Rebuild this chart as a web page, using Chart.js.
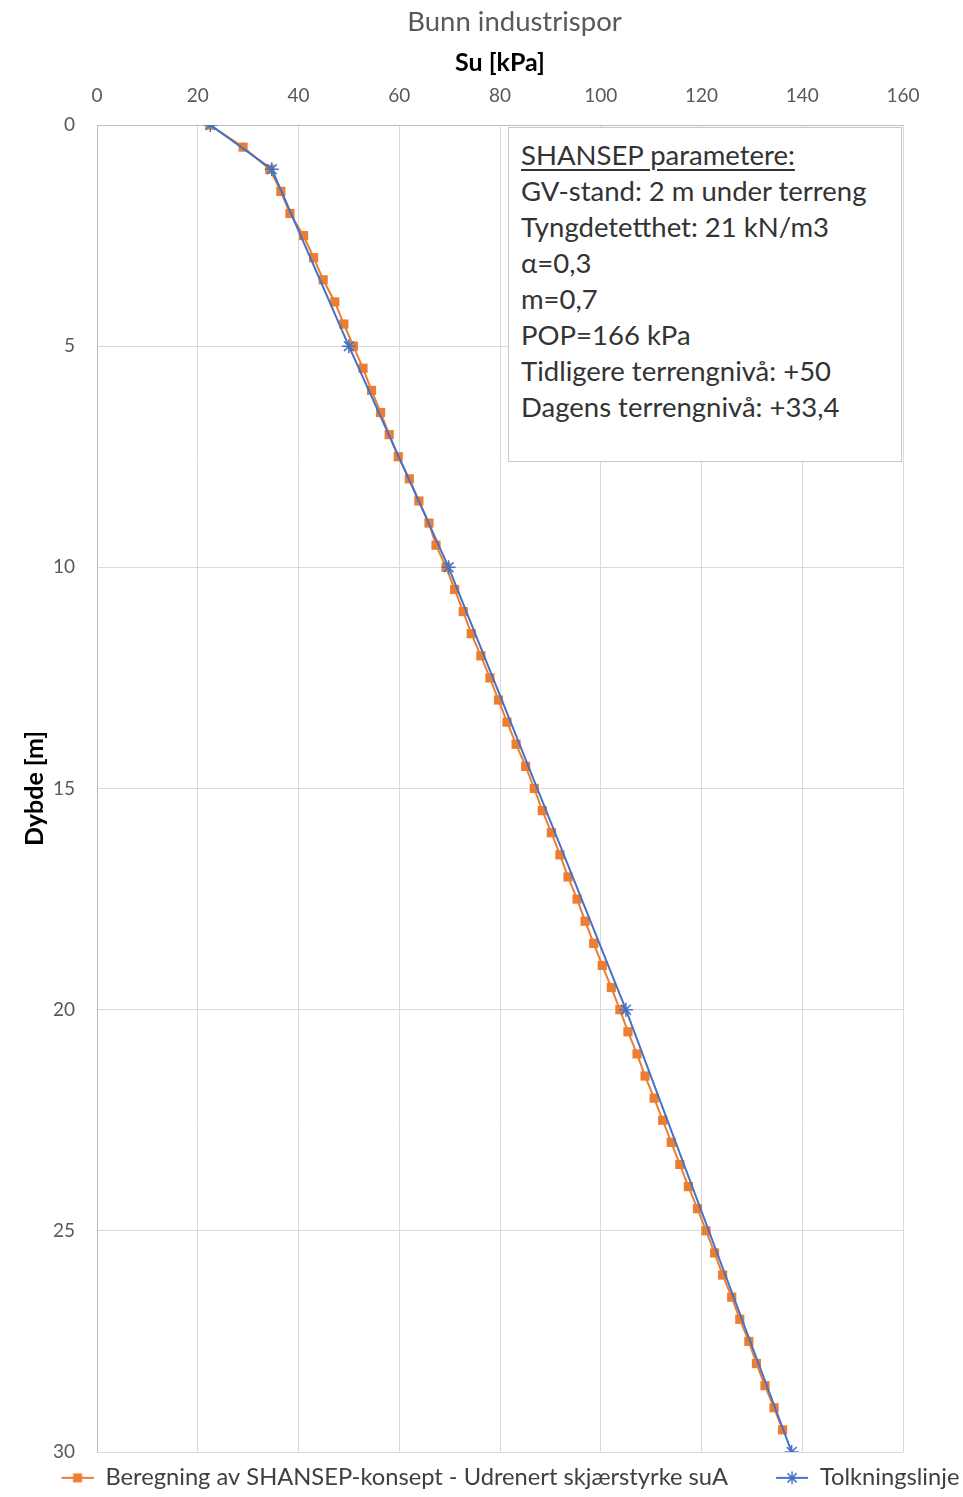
<!DOCTYPE html>
<html><head><meta charset="utf-8">
<script src="https://cdn.jsdelivr.net/npm/chart.js@4/dist/chart.umd.min.js"></script>
<style>
html,body{margin:0;padding:0;background:#fff;}
#wrap{position:relative;width:963px;height:1497px;}
#c{position:absolute;left:0;top:0;}
#note{position:absolute;left:508px;top:127px;width:394px;height:335px;border:1px solid #c8c8c8;background:#fff;font-family:Lato,"Open Sans",sans-serif;font-size:27.5px;line-height:36px;color:#333;box-sizing:border-box;padding:9px 0 0 12px;white-space:nowrap;}
#note .u{text-decoration:underline;text-underline-offset:4px;text-decoration-thickness:1.5px;}
</style></head>
<body><div id="wrap"><canvas id="c" width="963" height="1497"></canvas>
<div id="note">
<div class="u">SHANSEP parametere:</div>
<div>GV-stand: 2 m under terreng</div>
<div>Tyngdetetthet: 21 kN/m3</div>
<div>α=0,3</div>
<div>m=0,7</div>
<div>POP=166 kPa</div>
<div>Tidligere terrengnivå: +50</div>
<div>Dagens terrengnivå: +33,4</div>
</div></div>
<script>
// ---- data ----
const chartTitle = "Bunn industrispor";
const xTitle = "Su [kPa]";
const yTitle = "Dybde [m]";
const seriesNames = ["Beregning av SHANSEP-konsept - Udrenert skjærstyrke suA", "Tolkningslinje"];

const depthCalc = [0,0.5,1,1.5,2,2.5,3,3.5,4,4.5,5,5.5,6,6.5,7,7.5,8,8.5,9,9.5,10,10.5,11,11.5,12,12.5,13,13.5,14,14.5,15,15.5,16,16.5,17,17.5,18,18.5,19,19.5,20,20.5,21,21.5,22,22.5,23,23.5,24,24.5,25,25.5,26,26.5,27,27.5,28,28.5,29,29.5];
const suCalc = [22.4,29.0,34.3,36.5,38.3,41.0,43.0,44.9,47.2,49.0,50.9,52.8,54.5,56.3,58.0,59.8,62.0,63.9,65.9,67.3,69.3,71.0,72.7,74.3,76.2,78.0,79.7,81.4,83.2,85.1,86.8,88.4,90.2,91.9,93.5,95.3,96.9,98.6,100.3,102.1,103.8,105.4,107.2,108.8,110.6,112.3,114.0,115.7,117.4,119.2,120.9,122.6,124.2,126.0,127.6,129.4,130.9,132.6,134.4,136.1];

const depthLine = [0,1,5,10,20,30];
const suLine = [22.5,34.7,50.0,69.8,105.0,137.9];

const xTicks = [0,20,40,60,80,100,120,140,160];
const yTicks = [0,5,10,15,20,25,30];

// ---- styles ----
const ORANGE = '#ED7D31', BLUE = '#4472C4';
const FONT = 'Lato, "Open Sans", sans-serif';

function pts(xs, ys){ return xs.map((x,i)=>({x:x, y:ys[i]})); }

function makeIcon(kind){
  const cv = document.createElement('canvas');
  cv.width = 70; cv.height = 16;
  const g = cv.getContext('2d');
  const x0 = 38, x1 = 70, cy = 8, cx = (x0+x1)/2;
  g.lineWidth = 2;
  g.strokeStyle = kind === 'rect' ? ORANGE : BLUE;
  g.beginPath(); g.moveTo(x0, cy); g.lineTo(x1, cy); g.stroke();
  if (kind === 'rect') {
    g.fillStyle = ORANGE; g.fillRect(cx-4.5, cy-4.5, 9, 9);
  } else {
    g.lineWidth = 1.5;
    const r = 6.5;
    g.beginPath();
    g.moveTo(cx-r, cy); g.lineTo(cx+r, cy);
    g.moveTo(cx, cy-r); g.lineTo(cx, cy+r);
    const d = r*Math.SQRT1_2;
    g.moveTo(cx-d, cy-d); g.lineTo(cx+d, cy+d);
    g.moveTo(cx-d, cy+d); g.lineTo(cx+d, cy-d);
    g.stroke();
  }
  return cv;
}
const icons = [makeIcon('rect'), makeIcon('star')];

const shiftBlocks = {
  id: 'shiftBlocks',
  afterLayout(chart){
    const tb = chart.titleBlock;
    if (tb) { tb.left += 33; tb.right += 33; }
    const lg = chart.legend;
    if (lg) { lg.left += 10; lg.right += 10; lg.top += 4; lg.bottom += 4; }
  }
};

new Chart(document.getElementById('c'), {
  type: 'scatter',
  data: {
    datasets: [
      {
        label: seriesNames[0],
        data: pts(suCalc, depthCalc),
        showLine: true,
        borderColor: ORANGE,
        backgroundColor: ORANGE,
        borderWidth: 2,
        pointStyle: 'rect',
        pointRadius: 6.5,
        pointBorderWidth: 0,
        order: 2
      },
      {
        label: seriesNames[1],
        data: pts(suLine, depthLine),
        showLine: true,
        borderColor: BLUE,
        backgroundColor: BLUE,
        borderWidth: 2,
        pointStyle: 'star',
        pointRadius: 7,
        pointBorderWidth: 1.5,
        order: 1
      }
    ]
  },
  options: {
    responsive: false,
    animation: false,
    devicePixelRatio: 1,
    layout: { padding: { left: 0, right: 0, top: 0, bottom: 1.3 } },
    plugins: {
      tooltip: { enabled: false },
      title: {
        display: true,
        text: chartTitle,
        color: '#595959',
        font: { family: FONT, size: 27.5, weight: 'normal', lineHeight: 1.2 },
        padding: { top: 5.5, bottom: 0 }
      },
      legend: {
        position: 'bottom',
        labels: {
          usePointStyle: true,
          pointStyleWidth: 70,
          boxHeight: 14,
          padding: 10,
          color: '#404040',
          font: { family: FONT, size: 23.7 },
          sort: (a, b) => a.datasetIndex - b.datasetIndex,
          generateLabels(chart){
            const items = Chart.defaults.plugins.legend.labels.generateLabels(chart);
            items.forEach(it => { it.pointStyle = icons[it.datasetIndex]; });
            return items;
          }
        }
      }
    },
    scales: {
      x: {
        type: 'linear',
        position: 'top',
        min: xTicks[0], max: xTicks[xTicks.length-1],
        afterBuildTicks(scale){ scale.ticks = xTicks.map(v=>({value:v})); },
        afterFit(scale){ scale.height = 125 - 38.5; },
        grid: { color: '#d9d9d9', drawTicks: false, lineWidth: 1 },
        border: { color: '#bfbfbf', width: 1 },
        ticks: { color: '#595959', padding: 17.6, font: { family: FONT, size: 19 } },
        title: { display: true, text: xTitle, color: '#000', font: { family: FONT, size: 25, weight: 'bold', lineHeight: 1.2 }, padding: { top: 9.5, bottom: 0 } }
      },
      y: {
        type: 'linear',
        reverse: true,
        min: yTicks[0], max: yTicks[yTicks.length-1],
        afterBuildTicks(scale){ scale.ticks = yTicks.map(v=>({value:v})); },
        afterFit(scale){ scale.width = 97; },
        grid: { color: '#d9d9d9', drawTicks: false, lineWidth: 1 },
        border: { color: '#bfbfbf', width: 1 },
        ticks: { color: '#595959', padding: 22, font: { family: FONT, size: 19 } },
        title: { display: true, text: yTitle, color: '#000', font: { family: FONT, size: 25, weight: 'bold', lineHeight: 1.2 }, padding: { top: 20, bottom: 0 } }
      },
      yRight: {
        type: 'linear',
        position: 'right',
        reverse: true,
        min: yTicks[0], max: yTicks[yTicks.length-1],
        afterFit(scale){ scale.width = 60; },
        grid: { display: false, drawTicks: false },
        border: { display: false },
        ticks: { display: false }
      }
    }
  },
  plugins: [shiftBlocks]
});
</script>
</body></html>
